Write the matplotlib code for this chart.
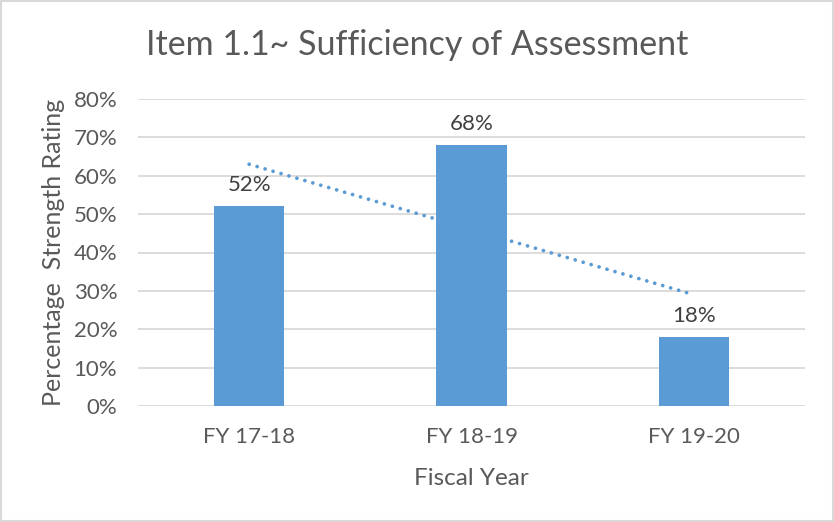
import numpy as np
import matplotlib.pyplot as plt
from matplotlib.patches import Rectangle
from matplotlib.ticker import PercentFormatter

plt.rcParams['font.family'] = ['Lato', 'DejaVu Sans']

categories = ['FY 17-18', 'FY 18-19', 'FY 19-20']
ratings = [0.52, 0.68, 0.18]
yticks = [0.0, 0.1, 0.2, 0.3, 0.4, 0.5, 0.6, 0.7, 0.8]

TEXT = '#595959'
BAR = '#5b9bd5'


def main():
    fig = plt.figure(figsize=(8.34, 5.22), dpi=100)
    ax = fig.add_axes([138 / 834, 1 - 406 / 522, 667 / 834, 307 / 522])

    x = np.arange(len(categories))
    ax.bar(x, ratings, width=0.315, color=BAR, zorder=3)

    # linear trendline, behind the bars
    k, b = np.polyfit(x, ratings, 1)
    ax.plot(x, k * x + b, linestyle=(0, (0.01, 2.2)), color=BAR, linewidth=2.7,
            dash_capstyle='round', zorder=2)

    for xi, v in zip(x, ratings):
        ax.annotate(f'{v:.0%}', (xi, v), xytext=(0, 8), textcoords='offset points',
                    ha='center', va='bottom', fontsize=16, color='#404040', zorder=4)

    ax.set_xlim(-0.5, len(categories) - 0.5)
    ax.set_ylim(0, 0.8)
    ax.set_yticks(yticks)
    ax.yaxis.set_major_formatter(PercentFormatter(1.0, decimals=0))
    ax.set_xticks(x)
    ax.set_xticklabels(categories)
    ax.grid(axis='y', color='#d9d9d9', linewidth=1.3, zorder=0)
    ax.set_axisbelow(True)
    for s in ax.spines.values():
        s.set_visible(False)
    ax.tick_params(length=0, labelsize=16, colors=TEXT, pad=15)

    ax.set_xlabel('Fiscal Year', fontsize=17.5, color=TEXT, labelpad=15)
    ax.set_ylabel('Percentage  Strength Rating', fontsize=18, color=TEXT, labelpad=6)
    fig.text(0.5, 1 - 45 / 522, 'Item 1.1~ Sufficiency of Assessment', ha='center',
             va='center', fontsize=24.5, color=TEXT)

    fig.patches.append(Rectangle((0.0006, 0.001), 0.9982, 0.997, transform=fig.transFigure,
                                 fill=False, edgecolor='#d9d9d9', linewidth=1.5))

    fig.savefig('out.png', dpi=100)


if __name__ == '__main__':
    main()
